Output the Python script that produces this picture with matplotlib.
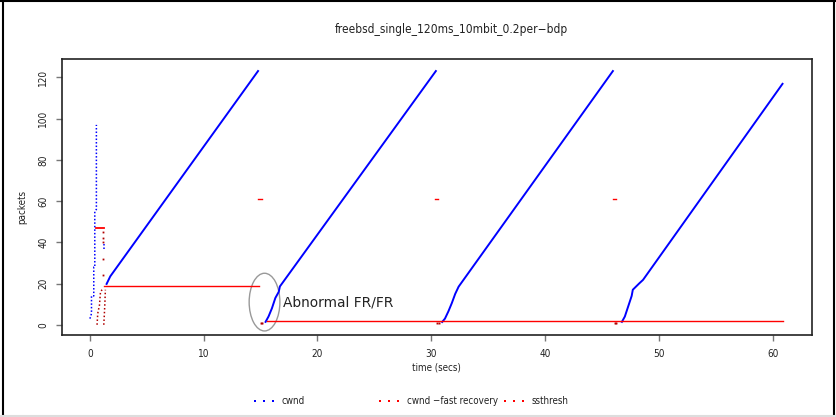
import matplotlib
matplotlib.use("Agg")
import matplotlib.pyplot as plt
from matplotlib.lines import Line2D
from matplotlib.patches import Ellipse
from matplotlib import font_manager as fm

# ---------------- data ----------------
title = "freebsd_single_120ms_10mbit_0.2per\u2212bdp"
x_ticks = [0, 10, 20, 30, 40, 50, 60]
y_ticks = [0, 20, 40, 60, 80, 100, 120]

# cwnd: initial slow start (dotted vertical steps)
ss_t = [0.0, 0.1, 0.15, 0.15, 0.35, 0.35, 0.44, 0.44, 0.58, 0.58]
ss_v = [3, 4, 6, 14, 14, 28, 28, 55, 56, 97]
# cwnd: small blue piece during recovery
blip_t = [1.23, 1.23]
blip_v = [37, 39]
# cwnd: congestion-avoidance cycles
cyc1_t = [1.44, 1.8, 14.83]
cyc1_v = [19.4, 23.5, 123.5]
cyc2_t = [15.4, 15.7, 16.0, 16.3, 16.6, 16.7, 30.45]
cyc2_v = [1, 4, 8, 13, 16, 18.6, 123.5]
cyc3_t = [30.9, 31.2, 31.5, 31.8, 32.1, 32.4, 46.0]
cyc3_v = [1, 3, 6.5, 10.5, 15, 18.5, 123.5]
cyc4_t = [46.7, 47.0, 47.3, 47.6, 47.7, 48.25, 48.6, 60.9]
cyc4_v = [1, 4, 9, 14, 17, 20, 21.8, 117.3]

# cwnd during fast recovery
fr1_t = [0.64, 0.7, 0.85, 0.94, 1.08]
fr1_v = [0, 5.5, 9.5, 16, 17]
fr2_t = [1.23, 1.28, 1.33, 1.37]
fr2_v = [0, 5, 11, 17]
fr3_t = [1.14, 1.14, 1.14, 1.14, 1.14]
fr3_v = [45, 42, 40, 32, 24]
fr4_t = [15.0, 15.15, 30.5, 30.65, 46.1, 46.25]
fr4_v = [1, 1, 1, 1, 1, 1]

# ssthresh
sst_a_t = [0.58, 1.23]
sst_a_v = [47, 47]
sst_b_t = [1.23, 14.85]
sst_b_v = [19, 19]
sst_c_t = [15.6, 60.9]
sst_c_v = [2, 2]
sst_marks_t = [(14.8, 15.1), (30.35, 30.6), (45.95, 46.2)]
sst_marks_v = 61

legend_labels = ["cwnd", "cwnd \u2212fast recovery", "ssthresh"]
annot_text = "Abnormal FR/FR"

# ---------------- figure ----------------
W, H = 836, 417
fig = plt.figure(figsize=(W / 100, H / 100), dpi=100)
ax = fig.add_axes([62 / W, 1 - 335 / H, (812 - 62) / W, (335 - 59) / H])

cond = fm.FontProperties(family="DejaVu Sans", stretch="condensed")
cond_path = fm.findfont(cond)
print(cond_path)

def fp(size):
    return fm.FontProperties(fname=cond_path, size=size)

blue = "#0000ff"
red = "#ff0000"
dred = "#b00000"
txt = "#222222"

ax.plot(ss_t, ss_v, color=blue, lw=1.1, ls=(0, (1, 1.3)))
ax.plot(blip_t, blip_v, color=blue, lw=1.1, ls=(0, (1, 1.3)))
for t, v in [(cyc1_t, cyc1_v), (cyc2_t, cyc2_v), (cyc3_t, cyc3_v), (cyc4_t, cyc4_v)]:
    ax.plot(t, v, color=blue, lw=1.4, solid_capstyle="butt")

for t, v in [(fr1_t, fr1_v), (fr2_t, fr2_v)]:
    ax.plot(t, v, color=dred, lw=1.1, ls=(0, (1, 1.5)))
ax.plot(fr3_t, fr3_v, color=dred, ls="none", marker="s", ms=1.3, mew=0)
ax.plot(fr4_t, fr4_v, color=dred, ls="none", marker="s", ms=1.4, mew=0)

ax.plot(sst_a_t, sst_a_v, color=red, lw=1.3)
ax.plot(sst_b_t, sst_b_v, color=red, lw=1.0)
ax.plot(sst_c_t, sst_c_v, color=red, lw=1.0)
for a, b in sst_marks_t:
    ax.plot([a, b], [sst_marks_v, sst_marks_v], color=red, lw=1.0)

ax.add_patch(Ellipse((15.35, 11), 2.7, 28, fill=False, ec="#999999", lw=1.0))
ax.text(17.0, 11, annot_text, fontsize=9.9, va="center", ha="left", color=txt)

ax.set_xlim(-2.44, 63.44)
ax.set_ylim(-4.96, 128.96)
ax.set_xticks(x_ticks)
ax.set_yticks(y_ticks)
ax.set_xticklabels([str(v) for v in x_ticks], fontproperties=fp(7.2), color=txt)
ax.set_yticklabels([str(v) for v in y_ticks], fontproperties=fp(7.2), color=txt,
                   rotation=90, va="center")
ax.tick_params(axis="both", length=4, width=1.0, color="#777777", pad=6)
for s in ax.spines.values():
    s.set_linewidth(1.2)
    s.set_color(txt)

fig.text(451 / W, 1 - 30 / H, title, fontproperties=fp(8.6), ha="center", va="center", color=txt)
fig.text(436 / W, 1 - 368 / H, "time (secs)", fontproperties=fp(7.0), ha="center", va="center", color=txt)
fig.text(22 / W, 1 - 207 / H, "packets", fontproperties=fp(7.0), ha="center", va="center",
         rotation=90, color=txt)

# legend (manual)
leg_y = 1 - 401 / H
leg_items = [(255, 282, blue), (380, 407, red), (505, 532, red)]
for (dx, tx, col), lab in zip(leg_items, legend_labels):
    fig.add_artist(Line2D([dx / W, (dx + 9) / W, (dx + 18) / W], [leg_y] * 3,
                          transform=fig.transFigure, ls="none", marker="s",
                          ms=1.5, mew=0, color=col))
    fig.text(tx / W, leg_y, lab, fontproperties=fp(7.0), ha="left", va="center", color=txt)

# outer frame
fk = dict(transform=fig.transFigure, lw=1.5)
fig.add_artist(Line2D([2.5 / W, 2.5 / W], [0, 1], color="black", **fk))
fig.add_artist(Line2D([0, 1], [1 - 1.2 / H, 1 - 1.2 / H], color="black", **fk))
fig.add_artist(Line2D([834 / W, 834 / W], [0, 1], color="black", **fk))
fig.add_artist(Line2D([0, 1], [1 - 416 / H, 1 - 416 / H], color="#dddddd", **fk))

fig.savefig("out.png", dpi=100)
